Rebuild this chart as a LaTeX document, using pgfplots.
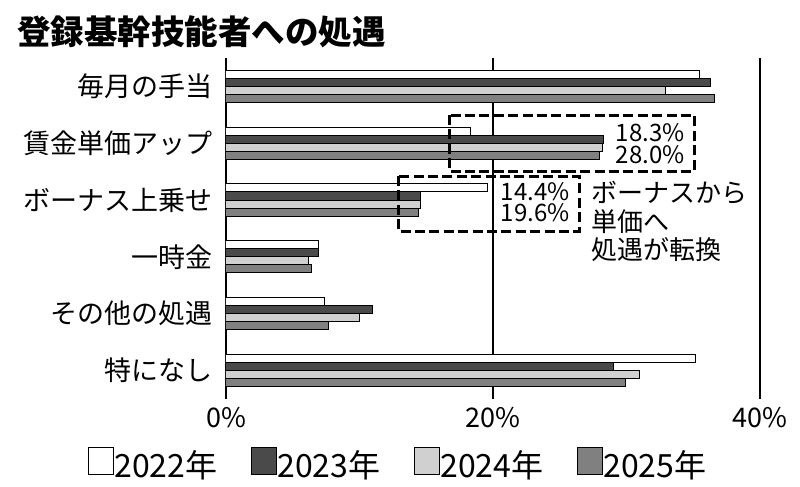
\documentclass[border=0pt]{standalone}
\usepackage{pgfplots}
\pgfplotsset{compat=1.18}
\usepackage{fontspec}
\setmainfont{Noto Sans CJK JP}
\definecolor{c22}{HTML}{FFFFFF}
\definecolor{c23}{HTML}{4A4A4A}
\definecolor{c24}{HTML}{D0D0D0}
\definecolor{c25}{HTML}{808080}
\begin{document}
\begin{tikzpicture}
\path[use as bounding box] (0,0) rectangle (400pt,-243.5pt);
\node[anchor=west,inner sep=0pt,font=\fontsize{16.75}{20}\selectfont\bfseries] at (8.5pt,-15.75pt) {登録基幹技能者への処遇};
\begin{axis}[
  at={(113pt,-29pt)}, anchor=north west,
  scale only axis, width=267pt, height=170.4pt,
  xmin=0, xmax=40, ymin=-0.5, ymax=5.5, y dir=reverse,
  xtick={0,20,40}, xticklabels={0\%,20\%,40\%},
  ytick={0,1,2,3,4,5},
  yticklabels={毎月の手当,賃金単価アップ,ボーナス上乗せ,一時金,その他の処遇,特になし},
  xmajorgrids, major grid style={black, line width=0.6pt},
  axis line style={draw=none}, major tick length=0pt,
  tick label style={font=\fontsize{13.5}{16}\selectfont},
  yticklabel style={anchor=east, inner sep=0pt, xshift=-6.5pt},
  xticklabel style={anchor=center, inner sep=0pt, yshift=-9.6pt},
  xbar, bar width=0.141,
  every axis plot/.append style={draw=black, line width=0.5pt},
  legend columns=4,
  legend style={at={(0.322,-0.18)}, anchor=center, draw=none, fill=none,
    font=\fontsize{16}{19}\selectfont, nodes={inner sep=0.5pt},
    /tikz/every even column/.append style={column sep=16.5pt}},
  legend image code/.code={\path[draw=none,fill=none] (0pt,-0.5pt) rectangle (12.5pt,13pt);
    \draw[#1,line width=0.6pt,overlay] (0pt,-4.75pt) rectangle (12.5pt,8.75pt);},
]
\addplot[fill=c22, bar shift=-0.2115] coordinates {(35.5,0) (18.3,1) (19.6,2) (6.9,3) (7.4,4) (35.2,5)};
\addplot[fill=c23, bar shift=-0.0705] coordinates {(36.3,0) (28.3,1) (14.6,2) (6.9,3) (11.0,4) (29.0,5)};
\addplot[fill=c24, bar shift=0.0705] coordinates {(32.9,0) (28.2,1) (14.6,2) (6.2,3) (10.0,4) (31.0,5)};
\addplot[fill=c25, bar shift=0.2115] coordinates {(36.6,0) (28.0,1) (14.4,2) (6.4,3) (7.7,4) (29.9,5)};
\legend{2022年,2023年,2024年,2025年}
\end{axis}
\draw[black, line width=1.5pt, dash pattern=on 5pt off 2.2pt] (224.5pt,-57.5pt) rectangle (347pt,-85.5pt);
\draw[black, line width=1.5pt, dash pattern=on 5pt off 2.2pt] (199pt,-88pt) rectangle (289.5pt,-115.5pt);
\begin{scope}[every node/.style={inner sep=0pt, font=\fontsize{12}{14}\selectfont}]
\node[anchor=east] at (342.5pt,-66.5pt) {18.3\%};
\node[anchor=east] at (342.5pt,-77.25pt) {28.0\%};
\node[anchor=east] at (285pt,-95.75pt) {14.4\%};
\node[anchor=east] at (285pt,-106.4pt) {19.6\%};
\end{scope}
\begin{scope}[every node/.style={inner sep=0pt, anchor=west, font=\fontsize{13}{15}\selectfont}]
\node at (295.5pt,-96.5pt) {ボーナスから};
\node at (295.5pt,-111pt) {単価へ};
\node at (295.5pt,-125pt) {処遇が転換};
\end{scope}
\end{tikzpicture}
\end{document}
